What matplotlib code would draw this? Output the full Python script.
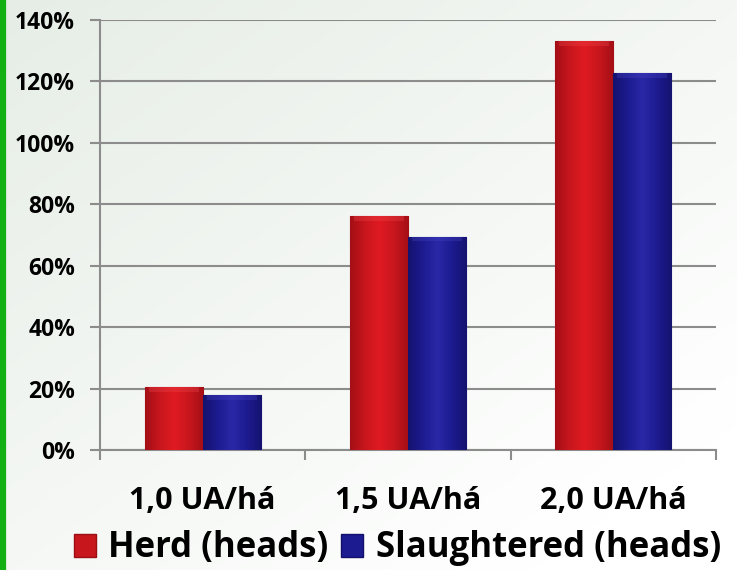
import matplotlib
matplotlib.use("Agg")
import matplotlib.pyplot as plt
import numpy as np
from matplotlib.patches import Patch
from matplotlib.lines import Line2D

categories = ['1,0 UA/há', '1,5 UA/há', '2,0 UA/há']
herd = [20.5, 76.2, 133.2]
slaughtered = [18.0, 69.5, 122.6]
series_names = ['Herd (heads)', 'Slaughtered (heads)']
yticks = [0, 20, 40, 60, 80, 100, 120, 140]

plt.rcParams['font.family'] = ['Open Sans', 'DejaVu Sans']
plt.rcParams['font.weight'] = 'bold'

fig = plt.figure(figsize=(7.37, 5.70), dpi=100)
fig.patch.set_facecolor('#f4f7f4')

# faint background wash
bg = fig.add_axes([0, 0, 1, 1], zorder=-10)
yy, xx = np.mgrid[0:1:200j, 0:1:260j]
wash = np.clip(0.55 * xx + 0.6 * (1 - yy), 0, 1)
bg.imshow(wash, cmap=matplotlib.colors.LinearSegmentedColormap.from_list('w', ['#e6ede6', '#ffffff']),
          extent=[0, 1, 0, 1], aspect='auto', origin='lower')
bg.axis('off')

# green stripe on the left
fig.add_artist(Line2D([0.004, 0.004], [0, 1], color='#12b012', lw=4.5, transform=fig.transFigure))

ax = fig.add_axes([0.1357, 0.2105, 0.8358, 0.7544])
ax.set_facecolor('none')

x = np.arange(len(categories))
w = 0.283


def shade(rect, dark, mid, light, top):
    # horizontal gradient, clipped to the bar
    cmap = matplotlib.colors.LinearSegmentedColormap.from_list(
        'b', [dark, mid, light, mid, dark])
    grad = np.linspace(0, 1, 64)[None, :]
    x0, y0 = rect.get_x(), rect.get_y()
    x1, y1 = x0 + rect.get_width(), y0 + rect.get_height()
    im = ax.imshow(grad, cmap=cmap, extent=[x0, x1, y0, y1],
                   aspect='auto', zorder=3, interpolation='bicubic')
    im.set_clip_path(rect)
    # soft lighter bevel along the top
    bev = ax.fill_between([x0 + 0.02, x1 - 0.02], y1 - 1.6, y1, color=top, alpha=0.3, lw=0, zorder=4)
    bev.set_clip_path(rect)


red_bars = ax.bar(x - w / 2, herd, w, color='#c8141c', edgecolor='#9a0e14', lw=0.8, zorder=2)
blue_bars = ax.bar(x + w / 2, slaughtered, w, color='#1c1a8e', edgecolor='#12106a', lw=0.8, zorder=2)
for r in red_bars:
    shade(r, '#a40f16', '#c8161d', '#e01a22', '#f04a50')
for r in blue_bars:
    shade(r, '#15136f', '#1d1b90', '#2a28a6', '#4a48c8')

ax.set_xlim(-0.5, 2.5)
ax.set_ylim(0, 140)
ax.set_yticks(yticks)
ax.set_yticklabels([f'{t}%' for t in yticks])
ax.yaxis.grid(True, color='#8c8c8c', lw=1.5, zorder=0)
ax.set_axisbelow(True)

ax.set_xticks(x)
ax.set_xticklabels(categories)
ax.set_xticks([-0.5, 0.5, 1.5, 2.5], minor=True)
ax.tick_params(axis='x', which='major', length=0, pad=26, labelsize=22)
ax.tick_params(axis='x', which='minor', length=7, width=1.5, color='#8c8c8c', direction='out')
ax.tick_params(axis='y', length=7, width=1.5, color='#8c8c8c', pad=11, labelsize=16.5)

for s in ['top', 'right']:
    ax.spines[s].set_visible(False)
for s in ['left', 'bottom']:
    ax.spines[s].set_color('#8c8c8c')
    ax.spines[s].set_linewidth(1.5)

handles = [Patch(facecolor='#c8161d', edgecolor='#9a0e14'),
           Patch(facecolor='#1d1b90', edgecolor='#12106a')]
fig.legend(handles, series_names, loc='center', bbox_to_anchor=(0.539, 0.038), ncol=2,
           frameon=False, fontsize=25, handlelength=0.65, handleheight=0.65,
           handletextpad=0.35, columnspacing=0.35, borderpad=0.1)

fig.savefig('out.png', dpi=100, facecolor=fig.get_facecolor())
